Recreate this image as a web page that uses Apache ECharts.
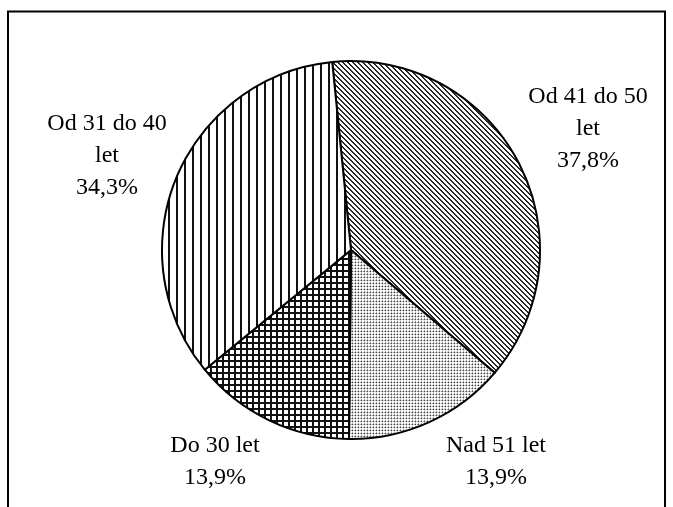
<!DOCTYPE html>
<html>
<head>
<meta charset="utf-8">
<script src="https://cdn.jsdelivr.net/npm/echarts@6/dist/echarts.min.js"></script>
<style>
  html, body { margin: 0; padding: 0; background: #fff; }
  #chart { width: 673px; height: 507px; }
</style>
</head>
<body>
<div id="chart"></div>
<script>
// Age groups, clockwise from the top
var categories = ['Od 41 do 50\nlet', 'Nad 51 let', 'Do 30 let', 'Od 31 do 40\nlet'];
var shares = [37.8, 13.9, 13.9, 34.3];

// Label anchor points (centre of each text block)
var labelPos = [[588, 129], [496, 462], [215, 462], [107, 156]];

function makeTile(w, h, paint) {
  var c = document.createElement('canvas');
  c.width = w; c.height = h;
  var ctx = c.getContext('2d');
  ctx.fillStyle = '#ffffff';
  ctx.fillRect(0, 0, w, h);
  paint(ctx);
  return c;
}

// Diagonal hatch (upper-left to lower-right)
var diagTile = makeTile(5, 5, function (ctx) {
  ctx.fillStyle = '#2a2a2a';
  for (var y = 0; y < 5; y++) {
    for (var x = 0; x < 5; x++) {
      var d = ((x - y) % 5 + 5) % 5;
      if (d === 0 || d === 1) ctx.fillRect(x, y, 1, 1);
    }
  }
});

// Fine dots
var dotTile = makeTile(3, 3, function (ctx) {
  ctx.fillStyle = '#444';
  ctx.fillRect(1, 1, 1, 1);
  ctx.fillStyle = '#a8a8a8';
  ctx.fillRect(0, 1, 1, 1);
  ctx.fillRect(1, 0, 1, 1);
  ctx.fillStyle = '#d8d8d8';
  ctx.fillRect(2, 1, 1, 1);
  ctx.fillRect(1, 2, 1, 1);
});

// Square grid
var gridTile = makeTile(6, 6, function (ctx) {
  ctx.fillStyle = '#111';
  ctx.fillRect(0, 0, 6, 2);
  ctx.fillRect(0, 0, 2, 6);
});

// Vertical stripes
var vertTile = makeTile(8, 8, function (ctx) {
  ctx.fillStyle = '#111';
  ctx.fillRect(0, 0, 2, 8);
});

var tiles = [diagTile, dotTile, gridTile, vertTile];

var data = categories.map(function (name, i) {
  return {
    name: name,
    value: shares[i],
    itemStyle: { color: { image: tiles[i], repeat: 'repeat' } }
  };
});

var chart = echarts.init(document.getElementById('chart'), null, { renderer: 'canvas' });

chart.setOption({
  animation: false,
  backgroundColor: '#ffffff',
  graphic: [{
    type: 'rect',
    shape: { x: 8, y: 11.5, width: 657, height: 520 },
    style: { fill: 'none', stroke: '#000', lineWidth: 2 },
    z: 10
  }],
  series: [{
    type: 'pie',
    center: [351, 250],
    radius: [0, 189],
    startAngle: 95.7,
    clockwise: true,
    avoidLabelOverlap: false,
    data: data,
    itemStyle: { borderColor: '#000', borderWidth: 2 },
    emphasis: { disabled: true },
    label: {
      show: true,
      position: 'outside',
      formatter: function (p) {
        return p.name + '\n' + p.value.toFixed(1).replace('.', ',') + '%';
      },
      fontFamily: '"Liberation Serif", "Times New Roman", serif',
      fontSize: 24,
      lineHeight: 32,
      color: '#000',
      align: 'center'
    },
    labelLine: { show: false },
    labelLayout: function (params) {
      var p = labelPos[params.dataIndex];
      return { x: p[0], y: p[1], align: 'center', verticalAlign: 'middle' };
    }
  }]
});
</script>
</body>
</html>
